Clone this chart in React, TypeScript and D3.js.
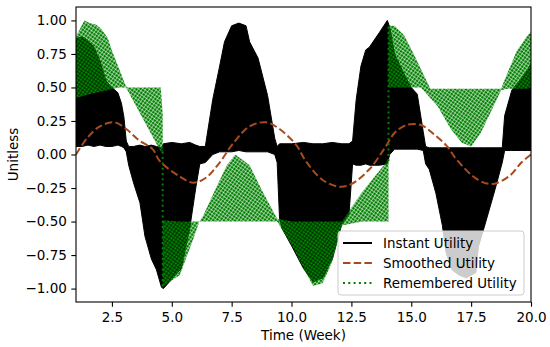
import React, { useEffect, useRef } from "react";
import * as d3 from "d3";

// Instant Utility: upper / lower envelope of the dense oscillation
const instantWeek = [1.0, 1.25, 1.5, 1.75, 2.0, 2.25, 2.5, 2.75, 2.9, 3.0, 3.1, 3.2, 3.4, 3.67, 3.88, 4.15, 4.36, 4.57, 4.65, 5.0, 5.4, 5.75, 6.0, 6.17, 6.4, 6.71, 7.0, 7.2, 7.5, 7.8, 8.1, 8.25, 8.6, 9.0, 9.3, 9.4, 9.5, 9.6, 10.0, 10.5, 10.9, 11.3, 11.7, 12.1, 12.4, 12.55, 12.7, 12.9, 13.1, 13.25, 13.67, 14.0, 14.1, 14.3, 14.7, 15.0, 15.25, 15.5, 15.6, 15.75, 16.03, 16.3, 16.45, 16.7, 17.0, 17.3, 17.7, 17.8, 18.05, 18.5, 18.8, 18.9, 19.2, 19.6, 19.85, 20.0];
const instantHigh = [0.86, 0.88, 0.85, 0.8, 0.7, 0.55, 0.5, 0.46, 0.38, 0.28, 0.1, 0.06, 0.06, 0.07, 0.06, 0.07, 0.06, 0.05, 0.08, 0.09, 0.08, 0.09, 0.07, 0.06, 0.06, 0.41, 0.66, 0.84, 0.96, 0.98, 0.96, 0.84, 0.72, 0.44, 0.12, 0.06, 0.08, 0.08, 0.08, 0.09, 0.08, 0.08, 0.09, 0.08, 0.08, 0.1, 0.41, 0.66, 0.78, 0.8, 0.91, 1.0, 0.95, 0.75, 0.6, 0.5, 0.45, 0.17, 0.06, 0.05, 0.05, 0.05, 0.05, 0.05, 0.05, 0.05, 0.05, 0.05, 0.05, 0.05, 0.05, 0.29, 0.48, 0.57, 0.63, 0.68];
const instantLow = [0.06, 0.06, 0.07, 0.06, 0.07, 0.06, 0.06, 0.07, 0.06, 0.05, 0.02, -0.08, -0.21, -0.36, -0.61, -0.78, -0.86, -0.99, -1.0, -0.93, -0.85, -0.55, -0.25, -0.07, -0.06, 0.0, 0.02, 0.02, 0.02, 0.03, 0.02, 0.02, 0.02, 0.02, 0.0, -0.06, -0.48, -0.55, -0.68, -0.85, -0.95, -0.92, -0.78, -0.52, -0.45, -0.07, -0.08, -0.08, -0.07, -0.08, -0.08, -0.07, 0.0, 0.04, 0.04, 0.04, 0.04, 0.03, -0.07, -0.11, -0.29, -0.53, -0.73, -0.86, -0.9, -0.92, -0.88, -0.69, -0.54, -0.26, -0.06, 0.03, 0.03, 0.03, 0.03, 0.03];

// Smoothed Utility
const smoothedWeek = [1.0, 1.5, 2.0, 2.6, 3.1, 3.6, 4.2, 4.5, 5.3, 5.9, 6.45, 7.0, 7.55, 8.25, 8.95, 9.5, 10.2, 10.6, 11.3, 12.0, 12.5, 13.25, 13.9, 14.3, 14.8, 15.4, 15.95, 16.5, 16.9, 17.8, 18.4, 19.1, 19.6, 20.0];
const smoothedValue = [0.0, 0.13, 0.21, 0.24, 0.19, 0.11, 0.04, -0.05, -0.16, -0.21, -0.17, -0.06, 0.08, 0.21, 0.24, 0.19, 0.07, -0.05, -0.19, -0.24, -0.22, -0.11, 0.05, 0.16, 0.22, 0.22, 0.15, 0.06, -0.04, -0.19, -0.22, -0.16, -0.06, 0.0];

// Remembered Utility, three memory segments
const rememberedWeekA = [1.0, 1.35, 1.56, 1.83, 2.04, 2.32, 2.53, 2.8, 3.08, 3.15, 4.54, 4.62];
const rememberedHighA = [0.88, 1.0, 0.98, 0.97, 0.94, 0.87, 0.76, 0.64, 0.51, 0.5, 0.5, 0.3];
const rememberedLowA = [0.42, 0.44, 0.45, 0.46, 0.47, 0.48, 0.49, 0.5, 0.5, 0.48, 0.02, 0.02];

const rememberedWeekB = [4.62, 4.65, 5.33, 5.9, 6.15, 6.3, 6.9, 7.3, 7.65, 8.25, 8.8, 9.4, 10.05, 10.6, 10.9, 11.3, 11.7, 12.1, 12.95, 13.95, 14.05];
const rememberedHighB = [-0.49, -0.49, -0.5, -0.5, -0.5, -0.46, -0.23, -0.08, 0.0, -0.08, -0.28, -0.48, -0.5, -0.5, -0.5, -0.5, -0.5, -0.5, -0.28, -0.06, -0.03];
const rememberedLowB = [-1.0, -0.98, -0.9, -0.63, -0.5, -0.5, -0.5, -0.5, -0.5, -0.5, -0.5, -0.5, -0.69, -0.88, -0.98, -0.96, -0.8, -0.53, -0.5, -0.5, -0.5];

const rememberedWeekC = [14.05, 14.3, 14.7, 15.1, 15.4, 15.5, 15.8, 16.1, 16.65, 17.1, 17.5, 17.9, 18.3, 18.75, 19.0, 19.4, 19.85, 20.0];
const rememberedHighC = [0.96, 0.96, 0.89, 0.75, 0.64, 0.6, 0.49, 0.49, 0.49, 0.49, 0.49, 0.49, 0.49, 0.49, 0.6, 0.77, 0.89, 0.91];
const rememberedLowC = [0.5, 0.5, 0.5, 0.5, 0.5, 0.48, 0.42, 0.36, 0.19, 0.09, 0.06, 0.16, 0.31, 0.48, 0.49, 0.49, 0.49, 0.5];

// vertical jumps when the memory resets
const jumpWeek = [4.62, 14.05];
const jumpFrom = [0.02, -0.05];
const jumpTo = [-1.0, 0.96];

const xTicks = [2.5, 5, 7.5, 10, 12.5, 15, 17.5, 20];
const yTicks = [-1, -0.75, -0.5, -0.25, 0, 0.25, 0.5, 0.75, 1];
const legendLabels = ["Instant Utility", "Smoothed Utility", "Remembered Utility"];

const W = 550;
const H = 347;
const font = "DejaVu Sans, sans-serif";
const green = "#008000";
const brown = "#a84a1e";

function drawChart(node: SVGSVGElement) {
  const svg = d3.select(node);
  svg.selectAll("*").remove();

  const left = 76, right = 531, top = 7, bottom = 302;
  const x = d3.scaleLinear().domain([1, 20]).range([left, right]);
  const y = d3.scaleLinear().domain([-1.1, 1.1]).range([bottom, top]);

  const defs = svg.append("defs");
  defs.append("clipPath").attr("id", "plot")
    .append("rect").attr("x", left).attr("y", top)
    .attr("width", right - left).attr("height", bottom - top);
  const pat = defs.append("pattern").attr("id", "gdots")
    .attr("patternUnits", "userSpaceOnUse")
    .attr("width", 3).attr("height", 3)
    .attr("patternTransform", "rotate(35)");
  pat.append("rect").attr("width", 2.5).attr("height", 2.5).attr("fill", green);

  svg.append("rect").attr("width", W).attr("height", H).attr("fill", "white");

  const plot = svg.append("g").attr("clip-path", "url(#plot)");

  // Instant utility band
  const band = d3.area<number>()
    .x((_, i) => x(instantWeek[i]))
    .y0((_, i) => y(instantLow[i]))
    .y1((_, i) => y(instantHigh[i]));
  plot.append("path").datum(instantWeek).attr("d", band).attr("fill", "black")
    .attr("stroke", "black").attr("stroke-width", 1);

  // Smoothed utility
  const line = d3.line<number>()
    .x((_, i) => x(smoothedWeek[i]))
    .y((_, i) => y(smoothedValue[i]))
    .curve(d3.curveCatmullRom);
  plot.append("path").datum(smoothedWeek).attr("d", line)
    .attr("fill", "none").attr("stroke", brown).attr("stroke-width", 2)
    .attr("stroke-dasharray", "7.5,3.2");

  // Remembered utility bands
  const segs = [
    [rememberedWeekA, rememberedHighA, rememberedLowA],
    [rememberedWeekB, rememberedHighB, rememberedLowB],
    [rememberedWeekC, rememberedHighC, rememberedLowC],
  ];
  segs.forEach(([wk, hi, lo]) => {
    const a = d3.area<number>()
      .x((_, i) => x(wk[i]))
      .y0((_, i) => y(lo[i]))
      .y1((_, i) => y(hi[i]));
    plot.append("path").datum(wk).attr("d", a).attr("fill", "url(#gdots)");
  });
  jumpWeek.forEach((wk, i) => {
    plot.append("line")
      .attr("x1", x(wk)).attr("x2", x(wk))
      .attr("y1", y(jumpFrom[i])).attr("y2", y(jumpTo[i]))
      .attr("stroke", green).attr("stroke-width", 2).attr("stroke-dasharray", "2,3.3");
  });

  // Axes
  const fmt = (d: d3.NumberValue) => d3.format(".2f")(+d).replace("-", "\u2212");
  const xAxis = svg.append("g").attr("transform", `translate(0,${bottom})`)
    .call(d3.axisBottom(x).tickValues(xTicks).tickFormat((d) => d3.format(".1f")(+d)).tickSize(4.7).tickPadding(6).tickSizeOuter(0));
  const yAxis = svg.append("g").attr("transform", `translate(${left},0)`)
    .call(d3.axisLeft(y).tickValues(yTicks).tickFormat(fmt).tickSize(4.7).tickPadding(4.5).tickSizeOuter(0));
  [xAxis, yAxis].forEach((ax) => {
    ax.select(".domain").remove();
    ax.selectAll("line").attr("stroke", "black").attr("stroke-width", 1.1);
    ax.selectAll("text").attr("font-family", font).attr("font-size", 13.5).attr("fill", "black");
  });

  svg.append("rect").attr("x", left).attr("y", top)
    .attr("width", right - left).attr("height", bottom - top)
    .attr("fill", "none").attr("stroke", "black").attr("stroke-width", 1.1);

  svg.append("text").attr("x", (left + right) / 2).attr("y", 340)
    .attr("text-anchor", "middle").attr("font-family", font).attr("font-size", 13.5)
    .text("Time (Week)");
  svg.append("text").attr("transform", `translate(18,${(top + bottom) / 2}) rotate(-90)`)
    .attr("text-anchor", "middle").attr("font-family", font).attr("font-size", 13.5)
    .text("Unitless");

  // Legend
  const lg = svg.append("g");
  lg.append("rect").attr("x", 338).attr("y", 231).attr("width", 186).attr("height", 64)
    .attr("rx", 3).attr("fill", "white").attr("fill-opacity", 0.8)
    .attr("stroke", "#cccccc").attr("stroke-width", 1);
  const styles = [
    { stroke: "black", dash: null },
    { stroke: brown, dash: "7.5,3.2" },
    { stroke: green, dash: "2,3.3" },
  ];
  legendLabels.forEach((label, i) => {
    const yy = 243 + i * 20;
    lg.append("line").attr("x1", 343).attr("x2", 372).attr("y1", yy).attr("y2", yy)
      .attr("stroke", styles[i].stroke).attr("stroke-width", 2)
      .attr("stroke-dasharray", styles[i].dash);
    lg.append("text").attr("x", 383).attr("y", yy).attr("dy", "0.36em")
      .attr("font-family", font).attr("font-size", 13.4).text(label);
  });
}

export default function App() {
  const ref = useRef<SVGSVGElement>(null);
  useEffect(() => {
    if (ref.current) drawChart(ref.current);
  }, []);
  return (
    <svg ref={ref} width={W} height={H}
      style={{ position: "absolute", left: 0, top: 0, display: "block" }} />
  );
}
